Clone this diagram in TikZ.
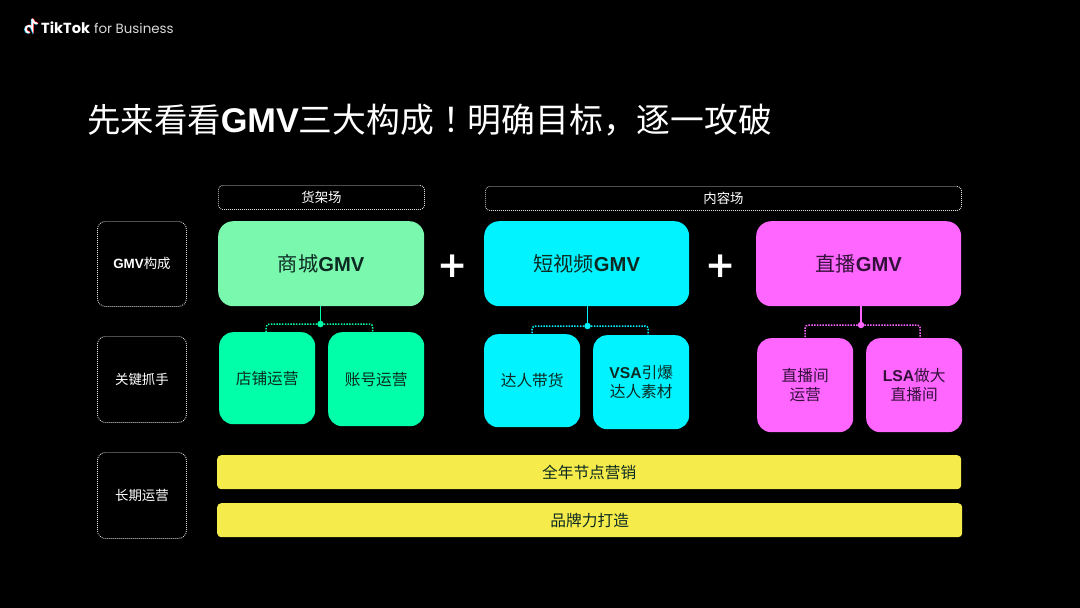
\documentclass[tikz,border=0pt]{standalone}
\usepackage{fontspec}
\setmainfont{Noto Sans CJK SC}
\newfontfamily\tcfont{Noto Sans CJK TC}
\newfontfamily\latb{Liberation Sans}[BoldFont={Liberation Sans Bold}]
\newfontfamily\logofont{Poppins}
\newfontfamily\plusfont{DejaVu Sans}
\newcommand{\lb}[1]{{\latb\bfseries #1}}
\definecolor{mint}{HTML}{7AF8AE}
\definecolor{green2}{HTML}{00FFA8}
\definecolor{aqua}{HTML}{00F3FF}
\definecolor{pinkb}{HTML}{FF66FF}
\definecolor{yel}{HTML}{F5EB4B}
\definecolor{ink}{HTML}{0C2A22}
\definecolor{inkp}{HTML}{33103A}
\tikzset{
  x=1pt,y=-1pt,
  outl/.style={draw=white!85!black,dash pattern=on .9pt off 1.1pt,line width=.9pt,rounded corners=8pt,text=white,font=\fontsize{13.4}{16}\selectfont,inner sep=0pt},
  hdr/.style={outl,rounded corners=4pt},
  bigbox/.style={rounded corners=15pt,text=ink,font=\fontsize{20.2}{24}\selectfont,inner sep=0pt},
  subbox/.style={rounded corners=14pt,text=ink,align=center,font=\fontsize{15.7}{19}\selectfont,inner sep=0pt},
  bar/.style={fill=yel,rounded corners=4pt,text=ink,font=\fontsize{15.7}{19}\selectfont,inner sep=0pt},
  solidlink/.style={line width=1.6pt},
  dotlink/.style={line width=1.5pt,dash pattern=on 1.5pt off 1.3pt,rounded corners=3pt},
  jn/.style={circle,inner sep=0pt,minimum size=6.5pt},
  plussign/.style={text=white,font=\fontsize{36}{36}\selectfont\plusfont\bfseries,inner sep=0pt}
}
\newcommand{\bx}[7]{\node[#2,minimum width=#5pt-#3pt,minimum height=#6pt-#4pt,anchor=north west] (#1) at (#3,#4) {#7};}
\begin{document}
\begin{tikzpicture}
\useasboundingbox (0,0) rectangle (1080,608);
\fill[black] (0,0) rectangle (1080,608);
% logo
\begin{scope}[line width=1.9pt,line cap=round,fill=none]
 \foreach \dx/\dy/\c in {-.6/.3/cyan,.6/-.3/red,0/0/white}{
  \draw[\c,shift={(\dx,\dy)}] (32.4,19.5) -- (32.4,29.2) arc[start angle=0,end angle=270,x radius=3.4,y radius=-3.4];
  \draw[\c,shift={(\dx,\dy)}] (32.4,19.5) .. controls (33,22) and (35,23.5) .. (37,23.6);
 }
\end{scope}
\node[anchor=west,text=white,inner sep=0pt,font=\fontsize{13.4}{16}\selectfont\logofont] (logo) at (41,27.8) {{\fontsize{14.6}{16}\selectfont\textbf{TikTok}}\hspace{.3em}{\color{white!85!black}for Business}};
% title
\node[anchor=west,text=white,inner sep=0pt,font=\fontsize{33.4}{40}\selectfont] (title) at (87,120) {先来看看{\fontsize{34.3}{40}\selectfont\lb{GMV}}{\fontsize{33.8}{40}\selectfont 三大构成{\tcfont ！}明确目标，逐一攻破}};
% left labels
\bx{l1}{outl}{97}{221}{186}{306}{\lb{GMV}构成}
\bx{l2}{outl}{97}{336}{186}{422}{关键抓手}
\bx{l3}{outl}{97}{452}{186}{538}{长期运营}
% headers
\bx{h1}{hdr}{218}{185}{424}{209}{货架场}
\bx{h2}{hdr}{485}{186}{961}{210}{内容场}
% main boxes
\bx{shop}{bigbox,fill=mint}{218}{221}{424}{306}{商城\lb{GMV}}
\bx{video}{bigbox,fill=aqua}{484}{221}{689}{306}{短视频\lb{GMV}}
\bx{live}{bigbox,fill=pinkb,text=inkp}{756}{221}{961}{306}{直播\lb{GMV}}
% plus
\node[plussign] (p1) at (453,266) {+};
\node[plussign] (p2) at (721,266) {+};
% sub boxes
\bx{s1}{subbox,fill=green2}{219}{332}{315}{424}{店铺运营}
\bx{s2}{subbox,fill=green2}{328}{332}{424}{426}{账号运营}
\bx{v1}{subbox,fill=aqua}{484}{334}{580}{427}{达人带货}
\bx{v2}{subbox,fill=aqua}{593}{335}{689}{429}{\lb{VSA}引爆\\达人素材}
\bx{d1}{subbox,fill=pinkb,text=inkp}{757}{338}{853}{432}{直播间\\运营}
\bx{d2}{subbox,fill=pinkb,text=inkp}{866}{338}{962}{432}{\lb{LSA}做大\\直播间}
% bars
\bx{b1}{bar}{217}{455}{961}{489}{全年节点营销}
\bx{b2}{bar}{217}{503}{962}{537}{品牌力打造}
% connectors
\node[jn,fill=green2] (j1) at (320.5,324) {};
\draw[solidlink,green2] (j1) -- (j1 |- shop.south);
\draw[dotlink,green2] (j1) -| ([xshift=-1pt]s1.north);
\draw[dotlink,green2] (j1) -| ([xshift=-3.5pt]s2.north);
\node[jn,fill=aqua] (j2) at (587.5,326) {};
\draw[solidlink,aqua] (j2) -- (j2 |- video.south);
\draw[dotlink,aqua] (j2) -| (v1.north);
\draw[dotlink,aqua] (j2) -| ([xshift=7pt]v2.north);
\node[jn,fill=pinkb] (j3) at (861,325) {};
\draw[solidlink,pinkb] (j3) -- (j3 |- live.south);
\draw[dotlink,pinkb] (j3) -| (d1.north);
\draw[dotlink,pinkb] (j3) -| ([xshift=6pt]d2.north);
\end{tikzpicture}
\end{document}
